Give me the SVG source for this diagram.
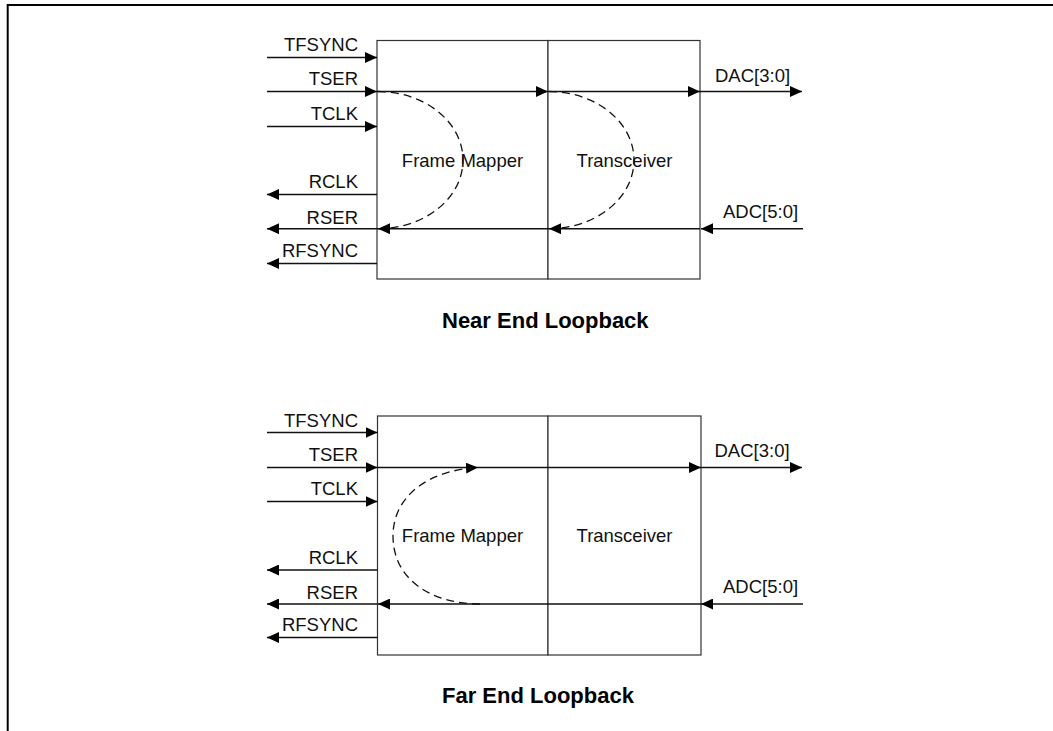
<svg xmlns="http://www.w3.org/2000/svg" width="1053" height="731" viewBox="0 0 1053 731">
<style>
.lbl{font-family:"Liberation Sans",Arial,sans-serif;font-size:18.5px;fill:#111}
.end{text-anchor:end}
.mid{text-anchor:middle}
.ttl{font-family:"Liberation Sans",Arial,sans-serif;font-size:22px;font-weight:bold;fill:#000}
.box{fill:#fff;stroke:#333;stroke-width:1.2}
.sig{fill:none;stroke:#111;stroke-width:1.4}
.arr{marker-end:url(#ah)}
.dash{fill:none;stroke:#111;stroke-width:1.3;stroke-dasharray:8,5}
</style>
<defs>
<marker id="ah" markerUnits="userSpaceOnUse" markerWidth="12" markerHeight="11" refX="12" refY="5.5" orient="auto">
<path d="M0,0 L12,5.5 L0,11 z" fill="#000"/>
</marker>
</defs>
<rect width="1053" height="731" fill="#fff"/>
<path d="M7.7,731 V5 H1053" fill="none" stroke="#000" stroke-width="2"/>

<!-- Near end loopback -->
<g id="near-frame-mapper">
<rect class="box" x="377" y="40.5" width="171" height="238.5"/>
<text class="lbl mid" x="462.5" y="166.7">Frame Mapper</text>
</g>
<g id="near-transceiver">
<rect class="box" x="548" y="40.5" width="152" height="238.5"/>
<text class="lbl mid" x="624.5" y="166.7">Transceiver</text>
</g>
<g id="near-labels">
<text class="lbl end" x="358" y="51">TFSYNC</text>
<text class="lbl end" x="358" y="85">TSER</text>
<text class="lbl end" x="358" y="120">TCLK</text>
<text class="lbl end" x="358" y="188">RCLK</text>
<text class="lbl end" x="358" y="223.5">RSER</text>
<text class="lbl end" x="358" y="257">RFSYNC</text>
<text class="lbl" x="715" y="82">DAC[3:0]</text>
<text class="lbl" x="723" y="217.5">ADC[5:0]</text>
</g>
<g id="near-title">
<text class="ttl" x="442" y="327.7">Near End Loopback</text>
</g>

<!-- Far end loopback -->
<g id="far-frame-mapper">
<rect class="box" x="377.5" y="416" width="170.5" height="239"/>
<text class="lbl mid" x="462.5" y="541.7">Frame Mapper</text>
</g>
<g id="far-transceiver">
<rect class="box" x="548" y="416" width="153" height="239"/>
<text class="lbl mid" x="624.5" y="541.7">Transceiver</text>
</g>
<g id="far-labels">
<text class="lbl end" x="358" y="426.5">TFSYNC</text>
<text class="lbl end" x="358" y="461">TSER</text>
<text class="lbl end" x="358" y="495">TCLK</text>
<text class="lbl end" x="358" y="563.5">RCLK</text>
<text class="lbl end" x="358" y="599">RSER</text>
<text class="lbl end" x="358" y="631">RFSYNC</text>
<text class="lbl" x="714.5" y="457">DAC[3:0]</text>
<text class="lbl" x="723" y="593.3">ADC[5:0]</text>
</g>
<g id="far-title">
<text class="ttl" x="442" y="703.3">Far End Loopback</text>
</g>

<g id="connectors">
<!-- near -->
<line class="sig arr" x1="267" y1="57.5" x2="377" y2="57.5"/>
<line class="sig arr" x1="267" y1="91.5" x2="377" y2="91.5"/>
<line class="sig arr" x1="267" y1="126.5" x2="377" y2="126.5"/>
<line class="sig arr" x1="377" y1="194.5" x2="267" y2="194.5"/>
<line class="sig arr" x1="377" y1="228.7" x2="267" y2="228.7"/>
<line class="sig arr" x1="377" y1="263.5" x2="267" y2="263.5"/>
<line class="sig arr" x1="377" y1="91.5" x2="548" y2="91.5"/>
<line class="sig arr" x1="548" y1="91.5" x2="700" y2="91.5"/>
<line class="sig arr" x1="700" y1="91.5" x2="802" y2="91.5"/>
<line class="sig arr" x1="803" y1="228.7" x2="701" y2="228.7"/>
<line class="sig" x1="700" y1="228.7" x2="377" y2="228.7"/>
<path class="dash arr" d="M378,91.5 A85,68.6 0 0 1 378,228.7"/>
<path class="dash arr" d="M549,91.5 A85,68.6 0 0 1 549,228.7"/>
<!-- far -->
<line class="sig arr" x1="267" y1="432.5" x2="377.5" y2="432.5"/>
<line class="sig arr" x1="267" y1="467.5" x2="377.5" y2="467.5"/>
<line class="sig arr" x1="267" y1="501.5" x2="377.5" y2="501.5"/>
<line class="sig arr" x1="377.5" y1="570" x2="267" y2="570"/>
<line class="sig arr" x1="377.5" y1="604" x2="267" y2="604"/>
<line class="sig arr" x1="377.5" y1="637.5" x2="267" y2="637.5"/>
<line class="sig arr" x1="377.5" y1="467.5" x2="701" y2="467.5"/>
<line class="sig arr" x1="701" y1="467.5" x2="802" y2="467.5"/>
<line class="sig arr" x1="803" y1="604" x2="701" y2="604"/>
<line class="sig arr" x1="701" y1="604" x2="378" y2="604"/>
<path class="dash arr" d="M480,604 C432,604 393,580 393,536 C393,495 430,470 478,467.5"/>
</g>
</svg>
